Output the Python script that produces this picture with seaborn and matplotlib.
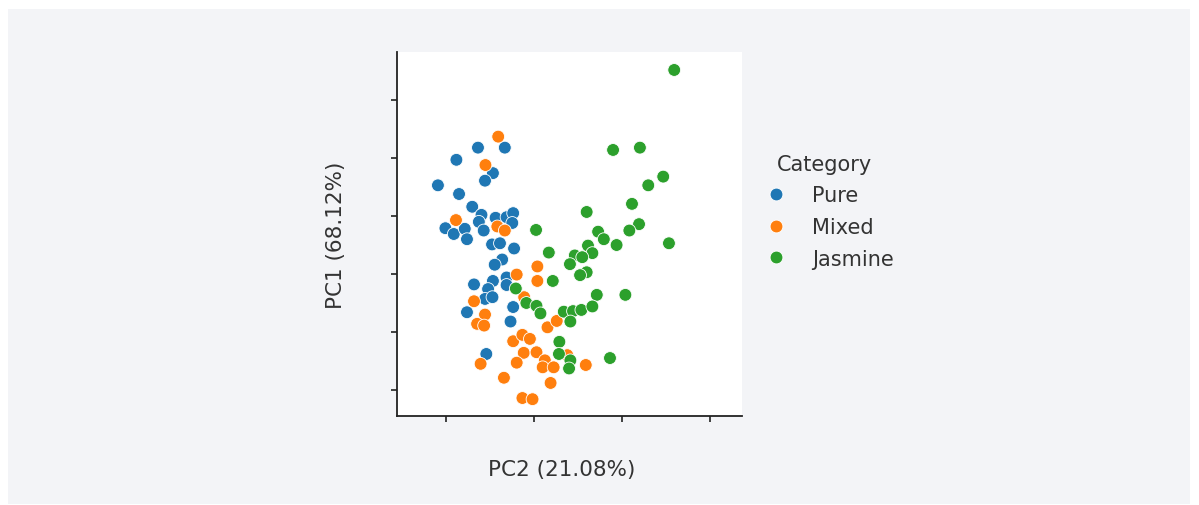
import numpy as np
import pandas as pd
import seaborn as sns
import matplotlib.pyplot as plt
from matplotlib.patches import Rectangle

# PCA scores (PC2 on x, PC1 on y)
pure_pc2 = [-2.18, -1.76, -1.27, -0.66, -0.93, -1.11, -1.70, -1.40, -2.01, -1.82,
            -1.57, -1.52, -1.19, -1.25, -1.14, -0.87, -0.62, -0.47, -0.49, -0.95,
            -0.77, -0.45, -0.72, -0.89, -0.93, -0.62, -0.62, -1.36, -1.04, -1.11,
            -0.94, -1.52, -0.47, -0.53, -1.08]
pure_pc1 = [2.53, 2.97, 3.18, 3.18, 2.74, 2.61, 2.38, 2.16, 1.79, 1.69,
            1.78, 1.60, 2.02, 1.90, 1.75, 1.97, 1.98, 2.05, 1.88, 1.51,
            1.53, 1.44, 1.25, 1.16, 0.88, 0.94, 0.81, 0.82, 0.74, 0.57,
            0.60, 0.34, 0.43, 0.18, -0.38]

mixed_pc2 = [-0.81, -1.10, -1.77, -0.83, -0.66, -0.39, 0.08, 0.08, -1.36, -1.11,
             -1.29, -1.13, -0.22, 0.31, 0.52, -0.47, -0.26, -0.09, -0.23, 0.06,
             0.25, -0.39, -1.21, 0.20, 0.45, 0.76, 1.18, -0.68, 0.38, -0.26, -0.03]
mixed_pc1 = [3.37, 2.88, 1.93, 1.82, 1.75, 0.99, 1.13, 0.88, 0.53, 0.30,
             0.14, 0.11, 0.60, 0.08, 0.19, -0.16, -0.05, -0.12, -0.36, -0.35,
             -0.49, -0.53, -0.55, -0.61, -0.61, -0.40, -0.57, -0.79, -0.88, -1.14, -1.16]

jasmine_pc2 = [3.19, 1.80, 2.41, 2.94, 2.60, 2.23, 1.20, 2.39, 2.17, 0.05,
               1.46, 1.59, 1.88, 3.07, 1.23, 1.33, 0.93, 0.82, 1.10, 0.34,
               1.20, 1.05, 0.43, -0.41, 1.43, 2.08, -0.17, 0.06, 0.15, 0.68,
               0.89, 1.08, 1.33, 0.83, 0.58, 0.57, 0.83, 0.80, 1.73]
jasmine_pc1 = [4.52, 3.14, 3.18, 2.68, 2.53, 2.21, 2.07, 1.86, 1.75, 1.76,
               1.73, 1.60, 1.50, 1.53, 1.49, 1.36, 1.32, 1.17, 1.29, 1.37,
               1.03, 0.98, 0.88, 0.75, 0.64, 0.64, 0.50, 0.45, 0.32, 0.35,
               0.36, 0.38, 0.44, 0.18, -0.17, -0.38, -0.49, -0.63, -0.45]

categories = ["Pure", "Mixed", "Jasmine"]

df = pd.DataFrame({
    "PC2": pure_pc2 + mixed_pc2 + jasmine_pc2,
    "PC1": pure_pc1 + mixed_pc1 + jasmine_pc1,
    "Category": ["Pure"] * len(pure_pc2) + ["Mixed"] * len(mixed_pc2) + ["Jasmine"] * len(jasmine_pc2),
})

sns.set_style("ticks")
plt.rcParams['font.family'] = ['DejaVu Sans']

fig = plt.figure(figsize=(11.99, 5.06), dpi=100)
fig.patch.set_facecolor("white")
# grey page background behind the plot
fig.patches.append(Rectangle((8 / 1199, 1 / 506), 1182 / 1199, 495 / 506,
                             transform=fig.transFigure, facecolor="#f3f4f7",
                             edgecolor="none", zorder=-10))

ax = fig.add_axes([397 / 1199, 1 - 417 / 506, 345 / 1199, 364 / 506])
ax.set_zorder(5)
ax.set_facecolor("white")

sns.scatterplot(data=df, x="PC2", y="PC1", hue="Category", hue_order=categories,
                palette="tab10", s=85, edgecolor="white", linewidth=0.6, ax=ax)

ax.set_xlim(-3.11, 4.73)
ax.set_ylim(-1.45, 4.83)
ax.set_xticks([-2, 0, 2, 4])
ax.set_yticks([-1, 0, 1, 2, 3, 4])
ax.set_xticklabels([])
ax.set_yticklabels([])
ax.tick_params(length=4, width=1.2, color="#222222")
sns.despine(ax=ax)
for sp in ["left", "bottom"]:
    ax.spines[sp].set_linewidth(1.3)
    ax.spines[sp].set_color("#222222")

ax.set_xlabel("PC2 (21.08%)", fontsize=15.5, color="#333333")
ax.set_ylabel("PC1 (68.12%)", fontsize=15.5, color="#333333", labelpad=29)
ax.xaxis.set_label_coords(0.478, -0.117)

leg = ax.legend(title="Category", loc="center left", bbox_to_anchor=(0.985, 0.563),
                frameon=False, fontsize=15, title_fontsize=15,
                handletextpad=0.7, labelspacing=0.56, markerscale=1.0)
for t in leg.get_texts():
    t.set_color("#333333")
leg.get_title().set_color("#333333")

fig.savefig("out.png", dpi=100, facecolor=fig.get_facecolor())
